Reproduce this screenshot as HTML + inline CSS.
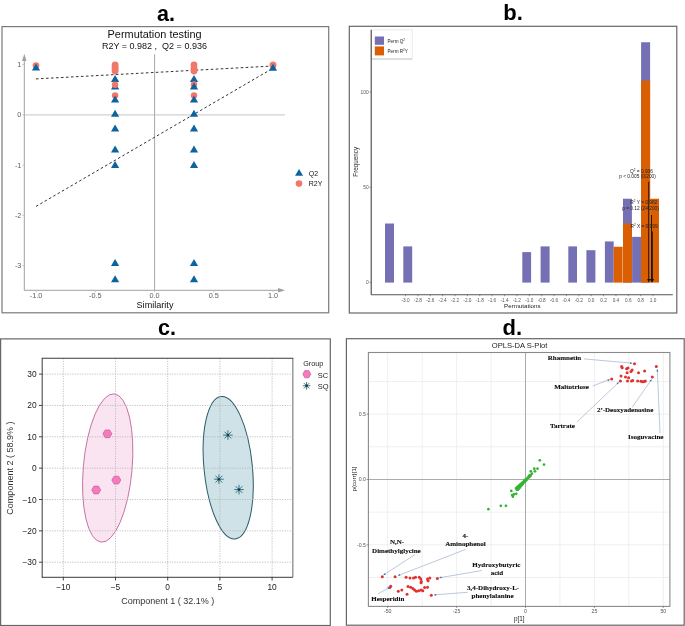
<!DOCTYPE html>
<html><head><meta charset="utf-8"><style>
html,body{margin:0;padding:0;background:#fff;}
svg{display:block;will-change:transform;filter:blur(0.35px);}
</style></head><body>
<svg width="685" height="626" viewBox="0 0 685 626">
<rect x="0" y="0" width="685" height="626" fill="#fff"/>
<text x="166.00" y="21.10" font-size="21.5" fill="#000" text-anchor="middle" font-weight="bold" font-family='"Liberation Sans", sans-serif' >a.</text>
<rect x="2.00" y="26.60" width="326.70" height="286.20" fill="none" stroke="#7a7a7a" stroke-width="1.2" />
<text x="154.60" y="37.60" font-size="10.2" fill="#111" text-anchor="middle" font-weight="normal" font-family='"Liberation Sans", sans-serif'  textLength="94" lengthAdjust="spacingAndGlyphs">Permutation testing</text>
<text x="154.45" y="48.90" font-size="8.2" fill="#111" text-anchor="middle" font-weight="normal" font-family='"Liberation Sans", sans-serif'  textLength="105" lengthAdjust="spacingAndGlyphs">R2Y = 0.982 ,&#160; Q2 = 0.936</text>
<line x1="24.30" y1="114.90" x2="285.00" y2="114.90" stroke="#d0d0d0" stroke-width="1.4" />
<line x1="154.60" y1="54.20" x2="154.60" y2="290.30" stroke="#a8a8a8" stroke-width="1" />
<line x1="24.30" y1="290.30" x2="24.30" y2="58.00" stroke="#a0a0a0" stroke-width="1" />
<line x1="24.30" y1="290.30" x2="280.00" y2="290.30" stroke="#a0a0a0" stroke-width="1" />
<path d="M24.3,53.8 L26.5,61 L22.1,61 Z" fill="#a0a0a0"/>
<path d="M285.2,290.3 L278,288.1 L278,292.5 Z" fill="#a0a0a0"/>
<text x="21.40" y="67.13" font-size="7.3" fill="#606060" text-anchor="end" font-weight="normal" font-family='"Liberation Sans", sans-serif' >1</text>
<line x1="22.30" y1="64.53" x2="24.30" y2="64.53" stroke="#bbb" stroke-width="0.8" />
<text x="21.40" y="117.40" font-size="7.3" fill="#606060" text-anchor="end" font-weight="normal" font-family='"Liberation Sans", sans-serif' >0</text>
<line x1="22.30" y1="114.80" x2="24.30" y2="114.80" stroke="#bbb" stroke-width="0.8" />
<text x="21.40" y="167.67" font-size="7.3" fill="#606060" text-anchor="end" font-weight="normal" font-family='"Liberation Sans", sans-serif' >-1</text>
<line x1="22.30" y1="165.07" x2="24.30" y2="165.07" stroke="#bbb" stroke-width="0.8" />
<text x="21.40" y="217.94" font-size="7.3" fill="#606060" text-anchor="end" font-weight="normal" font-family='"Liberation Sans", sans-serif' >-2</text>
<line x1="22.30" y1="215.34" x2="24.30" y2="215.34" stroke="#bbb" stroke-width="0.8" />
<text x="21.40" y="268.21" font-size="7.3" fill="#606060" text-anchor="end" font-weight="normal" font-family='"Liberation Sans", sans-serif' >-3</text>
<line x1="22.30" y1="265.61" x2="24.30" y2="265.61" stroke="#bbb" stroke-width="0.8" />
<text x="36.10" y="298.30" font-size="7.3" fill="#606060" text-anchor="middle" font-weight="normal" font-family='"Liberation Sans", sans-serif' >-1.0</text>
<line x1="36.10" y1="290.30" x2="36.10" y2="292.30" stroke="#bbb" stroke-width="0.8" />
<text x="95.35" y="298.30" font-size="7.3" fill="#606060" text-anchor="middle" font-weight="normal" font-family='"Liberation Sans", sans-serif' >-0.5</text>
<line x1="95.35" y1="290.30" x2="95.35" y2="292.30" stroke="#bbb" stroke-width="0.8" />
<text x="154.60" y="298.30" font-size="7.3" fill="#606060" text-anchor="middle" font-weight="normal" font-family='"Liberation Sans", sans-serif' >0.0</text>
<line x1="154.60" y1="290.30" x2="154.60" y2="292.30" stroke="#bbb" stroke-width="0.8" />
<text x="213.85" y="298.30" font-size="7.3" fill="#606060" text-anchor="middle" font-weight="normal" font-family='"Liberation Sans", sans-serif' >0.5</text>
<line x1="213.85" y1="290.30" x2="213.85" y2="292.30" stroke="#bbb" stroke-width="0.8" />
<text x="273.10" y="298.30" font-size="7.3" fill="#606060" text-anchor="middle" font-weight="normal" font-family='"Liberation Sans", sans-serif' >1.0</text>
<line x1="273.10" y1="290.30" x2="273.10" y2="292.30" stroke="#bbb" stroke-width="0.8" />
<text x="155.00" y="307.60" font-size="9.1" fill="#111" text-anchor="middle" font-weight="normal" font-family='"Liberation Sans", sans-serif' >Similarity</text>
<line x1="36.00" y1="78.90" x2="273.00" y2="66.00" stroke="#333" stroke-width="1" stroke-dasharray="2.6,2.4"/>
<line x1="36.00" y1="206.40" x2="273.00" y2="68.20" stroke="#333" stroke-width="1" stroke-dasharray="2.6,2.4"/>
<circle cx="36.00" cy="65.60" r="3.3" fill="#f0786a" stroke="none" stroke-width="0"/>
<path d="M36.00,63.60 L40.10,70.60 L31.90,70.60 Z" fill="#0d62a0"/>
<circle cx="273.00" cy="64.90" r="3.5" fill="#f0786a" stroke="none" stroke-width="0"/>
<path d="M273.00,63.80 L277.10,70.80 L268.90,70.80 Z" fill="#0d62a0"/>
<circle cx="115.10" cy="65.00" r="3.4" fill="#f0786a" stroke="none" stroke-width="0"/>
<circle cx="115.10" cy="67.20" r="3.4" fill="#f0786a" stroke="none" stroke-width="0"/>
<circle cx="115.10" cy="69.20" r="3.4" fill="#f0786a" stroke="none" stroke-width="0"/>
<circle cx="115.10" cy="71.00" r="3.4" fill="#f0786a" stroke="none" stroke-width="0"/>
<path d="M115.10,75.00 L119.20,82.00 L111.00,82.00 Z" fill="#0d62a0"/>
<path d="M115.10,82.60 L119.20,89.60 L111.00,89.60 Z" fill="#0d62a0"/>
<circle cx="115.10" cy="84.70" r="3.2" fill="#f0786a" stroke="none" stroke-width="0"/>
<circle cx="115.10" cy="95.50" r="3.2" fill="#f0786a" stroke="none" stroke-width="0"/>
<path d="M115.10,95.60 L119.20,102.60 L111.00,102.60 Z" fill="#0d62a0"/>
<path d="M115.10,109.80 L119.20,116.80 L111.00,116.80 Z" fill="#0d62a0"/>
<path d="M115.10,124.40 L119.20,131.40 L111.00,131.40 Z" fill="#0d62a0"/>
<path d="M115.10,145.60 L119.20,152.60 L111.00,152.60 Z" fill="#0d62a0"/>
<path d="M115.10,161.00 L119.20,168.00 L111.00,168.00 Z" fill="#0d62a0"/>
<path d="M115.10,258.90 L119.20,265.90 L111.00,265.90 Z" fill="#0d62a0"/>
<path d="M115.10,275.20 L119.20,282.20 L111.00,282.20 Z" fill="#0d62a0"/>
<circle cx="194.00" cy="65.00" r="3.4" fill="#f0786a" stroke="none" stroke-width="0"/>
<circle cx="194.00" cy="68.30" r="3.4" fill="#f0786a" stroke="none" stroke-width="0"/>
<circle cx="194.00" cy="71.00" r="3.4" fill="#f0786a" stroke="none" stroke-width="0"/>
<path d="M194.00,75.00 L198.10,82.00 L189.90,82.00 Z" fill="#0d62a0"/>
<circle cx="194.00" cy="84.50" r="3.2" fill="#f0786a" stroke="none" stroke-width="0"/>
<path d="M194.00,82.60 L198.10,89.60 L189.90,89.60 Z" fill="#0d62a0"/>
<circle cx="194.00" cy="95.50" r="3.2" fill="#f0786a" stroke="none" stroke-width="0"/>
<path d="M194.00,95.60 L198.10,102.60 L189.90,102.60 Z" fill="#0d62a0"/>
<path d="M194.00,109.80 L198.10,116.80 L189.90,116.80 Z" fill="#0d62a0"/>
<path d="M194.00,124.40 L198.10,131.40 L189.90,131.40 Z" fill="#0d62a0"/>
<path d="M194.00,145.60 L198.10,152.60 L189.90,152.60 Z" fill="#0d62a0"/>
<path d="M194.00,161.00 L198.10,168.00 L189.90,168.00 Z" fill="#0d62a0"/>
<path d="M194.00,258.90 L198.10,265.90 L189.90,265.90 Z" fill="#0d62a0"/>
<path d="M194.00,275.20 L198.10,282.20 L189.90,282.20 Z" fill="#0d62a0"/>
<path d="M299.05,169.10 L303.05,175.80 L295.05,175.80 Z" fill="#0d62a0"/>
<circle cx="299.00" cy="183.60" r="3.3" fill="#f0786a" stroke="none" stroke-width="0"/>
<text x="308.70" y="176.10" font-size="7" fill="#111" text-anchor="start" font-weight="normal" font-family='"Liberation Sans", sans-serif' >Q2</text>
<text x="308.70" y="185.80" font-size="7" fill="#111" text-anchor="start" font-weight="normal" font-family='"Liberation Sans", sans-serif' >R2Y</text>
<text x="513.00" y="19.70" font-size="22" fill="#000" text-anchor="middle" font-weight="bold" font-family='"Liberation Sans", sans-serif' >b.</text>
<rect x="349.30" y="26.30" width="327.50" height="286.70" fill="none" stroke="#666" stroke-width="1.2" />
<rect x="385.00" y="223.51" width="9.00" height="59.09" fill="#7570b3" stroke="none" stroke-width="1" />
<rect x="403.30" y="246.39" width="8.90" height="36.21" fill="#7570b3" stroke="none" stroke-width="1" />
<rect x="522.30" y="252.10" width="8.80" height="30.50" fill="#7570b3" stroke="none" stroke-width="1" />
<rect x="540.60" y="246.39" width="9.00" height="36.21" fill="#7570b3" stroke="none" stroke-width="1" />
<rect x="568.30" y="246.39" width="8.70" height="36.21" fill="#7570b3" stroke="none" stroke-width="1" />
<rect x="586.40" y="250.20" width="9.00" height="32.40" fill="#7570b3" stroke="none" stroke-width="1" />
<rect x="604.90" y="241.43" width="8.80" height="41.17" fill="#7570b3" stroke="none" stroke-width="1" />
<rect x="613.70" y="246.77" width="8.90" height="35.83" fill="#d95f02" stroke="none" stroke-width="1" />
<rect x="623.00" y="198.74" width="8.90" height="83.86" fill="#7570b3" stroke="none" stroke-width="1" />
<rect x="623.00" y="223.51" width="8.90" height="59.09" fill="#d95f02" stroke="none" stroke-width="1" />
<rect x="632.10" y="236.86" width="9.00" height="45.74" fill="#7570b3" stroke="none" stroke-width="1" />
<rect x="641.10" y="42.25" width="9.00" height="240.35" fill="#7570b3" stroke="none" stroke-width="1" />
<rect x="641.10" y="80.56" width="9.00" height="202.04" fill="#d95f02" stroke="none" stroke-width="1" />
<rect x="650.10" y="198.74" width="8.90" height="83.86" fill="#d95f02" stroke="none" stroke-width="1" />
<rect x="371.20" y="29.80" width="41.00" height="29.20" fill="#fff" stroke="#e6e6e6" stroke-width="0.8" />
<line x1="371.20" y1="59.00" x2="412.20" y2="59.00" stroke="#c8c8c8" stroke-width="1.2" />
<rect x="374.80" y="36.50" width="9.20" height="8.30" fill="#7570b3" stroke="none" stroke-width="1" />
<rect x="374.80" y="46.40" width="9.20" height="9.00" fill="#d95f02" stroke="none" stroke-width="1" />
<text x="387.50" y="42.60" font-size="4.6" fill="#222" text-anchor="start" font-weight="normal" font-family='"Liberation Sans", sans-serif' >Perm Q<tspan font-size="3" dy="-1.8">2</tspan></text>
<text x="387.50" y="52.80" font-size="4.6" fill="#222" text-anchor="start" font-weight="normal" font-family='"Liberation Sans", sans-serif' >Perm R<tspan font-size="3" dy="-1.8">2</tspan><tspan dy="1.8">Y</tspan></text>
<line x1="371.20" y1="29.80" x2="371.20" y2="294.70" stroke="#333" stroke-width="1" />
<line x1="371.20" y1="294.70" x2="672.80" y2="294.70" stroke="#555" stroke-width="1.1" />
<text x="368.60" y="284.30" font-size="4.8" fill="#555" text-anchor="end" font-weight="normal" font-family='"Liberation Sans", sans-serif' >0</text>
<line x1="369.60" y1="282.60" x2="371.20" y2="282.60" stroke="#555" stroke-width="0.6" />
<text x="368.60" y="189.00" font-size="4.8" fill="#555" text-anchor="end" font-weight="normal" font-family='"Liberation Sans", sans-serif' >50</text>
<line x1="369.60" y1="187.30" x2="371.20" y2="187.30" stroke="#555" stroke-width="0.6" />
<text x="368.60" y="93.70" font-size="4.8" fill="#555" text-anchor="end" font-weight="normal" font-family='"Liberation Sans", sans-serif' >100</text>
<line x1="369.60" y1="92.00" x2="371.20" y2="92.00" stroke="#555" stroke-width="0.6" />
<text x="405.50" y="301.80" font-size="4.7" fill="#555" text-anchor="middle" font-weight="normal" font-family='"Liberation Sans", sans-serif' >-3.0</text>
<line x1="405.50" y1="294.70" x2="405.50" y2="296.20" stroke="#555" stroke-width="0.6" />
<text x="417.88" y="301.80" font-size="4.7" fill="#555" text-anchor="middle" font-weight="normal" font-family='"Liberation Sans", sans-serif' >-2.8</text>
<line x1="417.88" y1="294.70" x2="417.88" y2="296.20" stroke="#555" stroke-width="0.6" />
<text x="430.26" y="301.80" font-size="4.7" fill="#555" text-anchor="middle" font-weight="normal" font-family='"Liberation Sans", sans-serif' >-2.6</text>
<line x1="430.26" y1="294.70" x2="430.26" y2="296.20" stroke="#555" stroke-width="0.6" />
<text x="442.64" y="301.80" font-size="4.7" fill="#555" text-anchor="middle" font-weight="normal" font-family='"Liberation Sans", sans-serif' >-2.4</text>
<line x1="442.64" y1="294.70" x2="442.64" y2="296.20" stroke="#555" stroke-width="0.6" />
<text x="455.02" y="301.80" font-size="4.7" fill="#555" text-anchor="middle" font-weight="normal" font-family='"Liberation Sans", sans-serif' >-2.2</text>
<line x1="455.02" y1="294.70" x2="455.02" y2="296.20" stroke="#555" stroke-width="0.6" />
<text x="467.40" y="301.80" font-size="4.7" fill="#555" text-anchor="middle" font-weight="normal" font-family='"Liberation Sans", sans-serif' >-2.0</text>
<line x1="467.40" y1="294.70" x2="467.40" y2="296.20" stroke="#555" stroke-width="0.6" />
<text x="479.78" y="301.80" font-size="4.7" fill="#555" text-anchor="middle" font-weight="normal" font-family='"Liberation Sans", sans-serif' >-1.8</text>
<line x1="479.78" y1="294.70" x2="479.78" y2="296.20" stroke="#555" stroke-width="0.6" />
<text x="492.16" y="301.80" font-size="4.7" fill="#555" text-anchor="middle" font-weight="normal" font-family='"Liberation Sans", sans-serif' >-1.6</text>
<line x1="492.16" y1="294.70" x2="492.16" y2="296.20" stroke="#555" stroke-width="0.6" />
<text x="504.54" y="301.80" font-size="4.7" fill="#555" text-anchor="middle" font-weight="normal" font-family='"Liberation Sans", sans-serif' >-1.4</text>
<line x1="504.54" y1="294.70" x2="504.54" y2="296.20" stroke="#555" stroke-width="0.6" />
<text x="516.92" y="301.80" font-size="4.7" fill="#555" text-anchor="middle" font-weight="normal" font-family='"Liberation Sans", sans-serif' >-1.2</text>
<line x1="516.92" y1="294.70" x2="516.92" y2="296.20" stroke="#555" stroke-width="0.6" />
<text x="529.30" y="301.80" font-size="4.7" fill="#555" text-anchor="middle" font-weight="normal" font-family='"Liberation Sans", sans-serif' >-1.0</text>
<line x1="529.30" y1="294.70" x2="529.30" y2="296.20" stroke="#555" stroke-width="0.6" />
<text x="541.68" y="301.80" font-size="4.7" fill="#555" text-anchor="middle" font-weight="normal" font-family='"Liberation Sans", sans-serif' >-0.8</text>
<line x1="541.68" y1="294.70" x2="541.68" y2="296.20" stroke="#555" stroke-width="0.6" />
<text x="554.06" y="301.80" font-size="4.7" fill="#555" text-anchor="middle" font-weight="normal" font-family='"Liberation Sans", sans-serif' >-0.6</text>
<line x1="554.06" y1="294.70" x2="554.06" y2="296.20" stroke="#555" stroke-width="0.6" />
<text x="566.44" y="301.80" font-size="4.7" fill="#555" text-anchor="middle" font-weight="normal" font-family='"Liberation Sans", sans-serif' >-0.4</text>
<line x1="566.44" y1="294.70" x2="566.44" y2="296.20" stroke="#555" stroke-width="0.6" />
<text x="578.82" y="301.80" font-size="4.7" fill="#555" text-anchor="middle" font-weight="normal" font-family='"Liberation Sans", sans-serif' >-0.2</text>
<line x1="578.82" y1="294.70" x2="578.82" y2="296.20" stroke="#555" stroke-width="0.6" />
<text x="591.20" y="301.80" font-size="4.7" fill="#555" text-anchor="middle" font-weight="normal" font-family='"Liberation Sans", sans-serif' >0.0</text>
<line x1="591.20" y1="294.70" x2="591.20" y2="296.20" stroke="#555" stroke-width="0.6" />
<text x="603.58" y="301.80" font-size="4.7" fill="#555" text-anchor="middle" font-weight="normal" font-family='"Liberation Sans", sans-serif' >0.2</text>
<line x1="603.58" y1="294.70" x2="603.58" y2="296.20" stroke="#555" stroke-width="0.6" />
<text x="615.96" y="301.80" font-size="4.7" fill="#555" text-anchor="middle" font-weight="normal" font-family='"Liberation Sans", sans-serif' >0.4</text>
<line x1="615.96" y1="294.70" x2="615.96" y2="296.20" stroke="#555" stroke-width="0.6" />
<text x="628.34" y="301.80" font-size="4.7" fill="#555" text-anchor="middle" font-weight="normal" font-family='"Liberation Sans", sans-serif' >0.6</text>
<line x1="628.34" y1="294.70" x2="628.34" y2="296.20" stroke="#555" stroke-width="0.6" />
<text x="640.72" y="301.80" font-size="4.7" fill="#555" text-anchor="middle" font-weight="normal" font-family='"Liberation Sans", sans-serif' >0.8</text>
<line x1="640.72" y1="294.70" x2="640.72" y2="296.20" stroke="#555" stroke-width="0.6" />
<text x="653.10" y="301.80" font-size="4.7" fill="#555" text-anchor="middle" font-weight="normal" font-family='"Liberation Sans", sans-serif' >1.0</text>
<line x1="653.10" y1="294.70" x2="653.10" y2="296.20" stroke="#555" stroke-width="0.6" />
<text x="522.30" y="307.80" font-size="6.2" fill="#222" text-anchor="middle" font-weight="normal" font-family='"Liberation Sans", sans-serif' >Permutations</text>
<text x="0.00" y="0.00" font-size="6.3" fill="#222" text-anchor="middle" font-weight="normal" font-family='"Liberation Sans", sans-serif' transform="translate(358.1,161.8) rotate(-90)">Frequency</text>
<line x1="648.70" y1="181.70" x2="648.70" y2="280.00" stroke="#111" stroke-width="0.9" />
<path d="M648.70,282.6 L650.30,279 L647.10,279 Z" fill="#111"/>
<line x1="651.50" y1="215.00" x2="651.50" y2="280.00" stroke="#111" stroke-width="0.9" />
<path d="M651.50,282.6 L653.10,279 L649.90,279 Z" fill="#111"/>
<line x1="652.40" y1="231.50" x2="652.40" y2="280.00" stroke="#111" stroke-width="0.9" />
<path d="M652.40,282.6 L654.00,279 L650.80,279 Z" fill="#111"/>
<text x="641.50" y="172.60" font-size="4.8" fill="#222" text-anchor="middle" font-weight="normal" font-family='"Liberation Sans", sans-serif' >Q<tspan font-size="3" dy="-1.6">2</tspan><tspan dy="1.6"> = 0.936</tspan></text>
<text x="637.50" y="178.00" font-size="4.8" fill="#222" text-anchor="middle" font-weight="normal" font-family='"Liberation Sans", sans-serif' >p &lt; 0.005 (0/200)</text>
<text x="643.80" y="203.60" font-size="4.8" fill="#222" text-anchor="middle" font-weight="normal" font-family='"Liberation Sans", sans-serif' >R<tspan font-size="3" dy="-1.6">2</tspan><tspan dy="1.6"> Y = 0.982</tspan></text>
<text x="640.50" y="210.00" font-size="4.8" fill="#222" text-anchor="middle" font-weight="normal" font-family='"Liberation Sans", sans-serif' >p = 0.12 (24/200)</text>
<text x="644.00" y="227.50" font-size="4.8" fill="#222" text-anchor="middle" font-weight="normal" font-family='"Liberation Sans", sans-serif' >R<tspan font-size="3" dy="-1.6">2</tspan><tspan dy="1.6"> X = 0.999</tspan></text>
<text x="167.00" y="334.60" font-size="21.5" fill="#000" text-anchor="middle" font-weight="bold" font-family='"Liberation Sans", sans-serif' >c.</text>
<rect x="0.60" y="338.90" width="329.70" height="286.60" fill="none" stroke="#666" stroke-width="1.2" />
<ellipse cx="107.7" cy="468" rx="24.4" ry="74.45" transform="rotate(5.0 107.7 468)" fill="#fbe4f1" stroke="#c06a9e" stroke-width="0.9"/>
<ellipse cx="228.2" cy="467.7" rx="24.2" ry="71.6" transform="rotate(-5.6 228.2 467.7)" fill="#cee2e7" stroke="#2c5a68" stroke-width="1"/>
<line x1="63.30" y1="358.30" x2="63.30" y2="577.30" stroke="#b0b0b0" stroke-width="0.85" stroke-dasharray="1.1,1.4"/>
<line x1="115.50" y1="358.30" x2="115.50" y2="577.30" stroke="#b0b0b0" stroke-width="0.85" stroke-dasharray="1.1,1.4"/>
<line x1="167.70" y1="358.30" x2="167.70" y2="577.30" stroke="#b0b0b0" stroke-width="0.85" stroke-dasharray="1.1,1.4"/>
<line x1="219.90" y1="358.30" x2="219.90" y2="577.30" stroke="#b0b0b0" stroke-width="0.85" stroke-dasharray="1.1,1.4"/>
<line x1="272.10" y1="358.30" x2="272.10" y2="577.30" stroke="#b0b0b0" stroke-width="0.85" stroke-dasharray="1.1,1.4"/>
<line x1="42.20" y1="374.10" x2="292.80" y2="374.10" stroke="#b0b0b0" stroke-width="0.85" stroke-dasharray="1.1,1.4"/>
<line x1="42.20" y1="405.45" x2="292.80" y2="405.45" stroke="#b0b0b0" stroke-width="0.85" stroke-dasharray="1.1,1.4"/>
<line x1="42.20" y1="436.80" x2="292.80" y2="436.80" stroke="#b0b0b0" stroke-width="0.85" stroke-dasharray="1.1,1.4"/>
<line x1="42.20" y1="468.15" x2="292.80" y2="468.15" stroke="#b0b0b0" stroke-width="0.85" stroke-dasharray="1.1,1.4"/>
<line x1="42.20" y1="499.50" x2="292.80" y2="499.50" stroke="#b0b0b0" stroke-width="0.85" stroke-dasharray="1.1,1.4"/>
<line x1="42.20" y1="530.85" x2="292.80" y2="530.85" stroke="#b0b0b0" stroke-width="0.85" stroke-dasharray="1.1,1.4"/>
<line x1="42.20" y1="562.20" x2="292.80" y2="562.20" stroke="#b0b0b0" stroke-width="0.85" stroke-dasharray="1.1,1.4"/>
<line x1="292.80" y1="358.30" x2="292.80" y2="577.30" stroke="#9a9a9a" stroke-width="1.5" />
<line x1="42.20" y1="358.30" x2="42.20" y2="577.30" stroke="#3a3a3a" stroke-width="1.0" />
<line x1="41.70" y1="358.30" x2="293.30" y2="358.30" stroke="#3a3a3a" stroke-width="1.1" />
<line x1="41.70" y1="577.30" x2="292.80" y2="577.30" stroke="#3a3a3a" stroke-width="1.0" />
<text x="36.60" y="377.10" font-size="8.4" fill="#222" text-anchor="end" font-weight="normal" font-family='"Liberation Sans", sans-serif' >30</text>
<line x1="39.00" y1="374.10" x2="42.20" y2="374.10" stroke="#333" stroke-width="0.9" />
<text x="36.60" y="408.45" font-size="8.4" fill="#222" text-anchor="end" font-weight="normal" font-family='"Liberation Sans", sans-serif' >20</text>
<line x1="39.00" y1="405.45" x2="42.20" y2="405.45" stroke="#333" stroke-width="0.9" />
<text x="36.60" y="439.80" font-size="8.4" fill="#222" text-anchor="end" font-weight="normal" font-family='"Liberation Sans", sans-serif' >10</text>
<line x1="39.00" y1="436.80" x2="42.20" y2="436.80" stroke="#333" stroke-width="0.9" />
<text x="36.60" y="471.15" font-size="8.4" fill="#222" text-anchor="end" font-weight="normal" font-family='"Liberation Sans", sans-serif' >0</text>
<line x1="39.00" y1="468.15" x2="42.20" y2="468.15" stroke="#333" stroke-width="0.9" />
<text x="36.60" y="502.50" font-size="8.4" fill="#222" text-anchor="end" font-weight="normal" font-family='"Liberation Sans", sans-serif' >&#8722;10</text>
<line x1="39.00" y1="499.50" x2="42.20" y2="499.50" stroke="#333" stroke-width="0.9" />
<text x="36.60" y="533.85" font-size="8.4" fill="#222" text-anchor="end" font-weight="normal" font-family='"Liberation Sans", sans-serif' >&#8722;20</text>
<line x1="39.00" y1="530.85" x2="42.20" y2="530.85" stroke="#333" stroke-width="0.9" />
<text x="36.60" y="565.20" font-size="8.4" fill="#222" text-anchor="end" font-weight="normal" font-family='"Liberation Sans", sans-serif' >&#8722;30</text>
<line x1="39.00" y1="562.20" x2="42.20" y2="562.20" stroke="#333" stroke-width="0.9" />
<text x="63.30" y="589.80" font-size="8.4" fill="#222" text-anchor="middle" font-weight="normal" font-family='"Liberation Sans", sans-serif' >&#8722;10</text>
<line x1="63.30" y1="577.30" x2="63.30" y2="580.50" stroke="#333" stroke-width="0.9" />
<text x="115.50" y="589.80" font-size="8.4" fill="#222" text-anchor="middle" font-weight="normal" font-family='"Liberation Sans", sans-serif' >&#8722;5</text>
<line x1="115.50" y1="577.30" x2="115.50" y2="580.50" stroke="#333" stroke-width="0.9" />
<text x="167.70" y="589.80" font-size="8.4" fill="#222" text-anchor="middle" font-weight="normal" font-family='"Liberation Sans", sans-serif' >0</text>
<line x1="167.70" y1="577.30" x2="167.70" y2="580.50" stroke="#333" stroke-width="0.9" />
<text x="219.90" y="589.80" font-size="8.4" fill="#222" text-anchor="middle" font-weight="normal" font-family='"Liberation Sans", sans-serif' >5</text>
<line x1="219.90" y1="577.30" x2="219.90" y2="580.50" stroke="#333" stroke-width="0.9" />
<text x="272.10" y="589.80" font-size="8.4" fill="#222" text-anchor="middle" font-weight="normal" font-family='"Liberation Sans", sans-serif' >10</text>
<line x1="272.10" y1="577.30" x2="272.10" y2="580.50" stroke="#333" stroke-width="0.9" />
<text x="167.75" y="604.20" font-size="9.0" fill="#333" text-anchor="middle" font-weight="normal" font-family='"Liberation Sans", sans-serif' >Component 1 ( 32.1% )</text>
<text x="0.00" y="0.00" font-size="9.0" fill="#333" text-anchor="middle" font-weight="normal" font-family='"Liberation Sans", sans-serif' transform="translate(13.4,468.1) rotate(-90)">Component 2 ( 58.9% )</text>
<path d="M102.90,433.80 L105.15,429.90 L109.65,429.90 L111.90,433.80 L109.65,437.70 L105.15,437.70 Z" fill="#f27dbb" stroke="#d2589c" stroke-width="0.7"/>
<path d="M111.80,480.10 L114.05,476.20 L118.55,476.20 L120.80,480.10 L118.55,484.00 L114.05,484.00 Z" fill="#f27dbb" stroke="#d2589c" stroke-width="0.7"/>
<path d="M91.70,490.00 L93.95,486.10 L98.45,486.10 L100.70,490.00 L98.45,493.90 L93.95,493.90 Z" fill="#f27dbb" stroke="#d2589c" stroke-width="0.7"/>
<line x1="223.10" y1="435.10" x2="232.70" y2="435.10" stroke="#2a6678" stroke-width="0.9" />
<line x1="224.51" y1="431.71" x2="231.29" y2="438.49" stroke="#2a6678" stroke-width="0.9" />
<line x1="227.90" y1="430.30" x2="227.90" y2="439.90" stroke="#2a6678" stroke-width="0.9" />
<line x1="231.29" y1="431.71" x2="224.51" y2="438.49" stroke="#2a6678" stroke-width="0.9" />
<circle cx="227.90" cy="435.10" r="1.3" fill="#0f3f50" stroke="none" stroke-width="0"/>
<line x1="214.10" y1="479.20" x2="223.70" y2="479.20" stroke="#2a6678" stroke-width="0.9" />
<line x1="215.51" y1="475.81" x2="222.29" y2="482.59" stroke="#2a6678" stroke-width="0.9" />
<line x1="218.90" y1="474.40" x2="218.90" y2="484.00" stroke="#2a6678" stroke-width="0.9" />
<line x1="222.29" y1="475.81" x2="215.51" y2="482.59" stroke="#2a6678" stroke-width="0.9" />
<circle cx="218.90" cy="479.20" r="1.3" fill="#0f3f50" stroke="none" stroke-width="0"/>
<line x1="234.20" y1="489.60" x2="243.80" y2="489.60" stroke="#2a6678" stroke-width="0.9" />
<line x1="235.61" y1="486.21" x2="242.39" y2="492.99" stroke="#2a6678" stroke-width="0.9" />
<line x1="239.00" y1="484.80" x2="239.00" y2="494.40" stroke="#2a6678" stroke-width="0.9" />
<line x1="242.39" y1="486.21" x2="235.61" y2="492.99" stroke="#2a6678" stroke-width="0.9" />
<circle cx="239.00" cy="489.60" r="1.3" fill="#0f3f50" stroke="none" stroke-width="0"/>
<text x="303.20" y="365.50" font-size="7.2" fill="#222" text-anchor="start" font-weight="normal" font-family='"Liberation Sans", sans-serif' >Group</text>
<path d="M302.80,374.20 L304.80,370.60 L308.80,370.60 L310.80,374.20 L308.80,377.80 L304.80,377.80 Z" fill="#f27dbb" stroke="#d2589c" stroke-width="0.7"/>
<text x="317.70" y="377.60" font-size="7.5" fill="#222" text-anchor="start" font-weight="normal" font-family='"Liberation Sans", sans-serif' >SC</text>
<line x1="302.80" y1="385.80" x2="310.40" y2="385.80" stroke="#2a6678" stroke-width="0.9" />
<line x1="303.91" y1="383.11" x2="309.29" y2="388.49" stroke="#2a6678" stroke-width="0.9" />
<line x1="306.60" y1="382.00" x2="306.60" y2="389.60" stroke="#2a6678" stroke-width="0.9" />
<line x1="309.29" y1="383.11" x2="303.91" y2="388.49" stroke="#2a6678" stroke-width="0.9" />
<circle cx="306.60" cy="385.80" r="1.3" fill="#0f3f50" stroke="none" stroke-width="0"/>
<text x="317.70" y="388.60" font-size="7.5" fill="#222" text-anchor="start" font-weight="normal" font-family='"Liberation Sans", sans-serif' >SQ</text>
<text x="512.30" y="335.10" font-size="22" fill="#000" text-anchor="middle" font-weight="bold" font-family='"Liberation Sans", sans-serif' >d.</text>
<rect x="346.40" y="338.70" width="337.80" height="286.50" fill="none" stroke="#666" stroke-width="1.2" />
<text x="519.60" y="347.70" font-size="7.6" fill="#222" text-anchor="middle" font-weight="normal" font-family='"Liberation Sans", sans-serif' >OPLS-DA S-Plot</text>
<line x1="387.70" y1="352.50" x2="387.70" y2="606.40" stroke="#ebebeb" stroke-width="0.8" />
<line x1="422.15" y1="352.50" x2="422.15" y2="606.40" stroke="#ebebeb" stroke-width="0.8" />
<line x1="456.60" y1="352.50" x2="456.60" y2="606.40" stroke="#ebebeb" stroke-width="0.8" />
<line x1="491.05" y1="352.50" x2="491.05" y2="606.40" stroke="#ebebeb" stroke-width="0.8" />
<line x1="525.50" y1="352.50" x2="525.50" y2="606.40" stroke="#ebebeb" stroke-width="0.8" />
<line x1="559.95" y1="352.50" x2="559.95" y2="606.40" stroke="#ebebeb" stroke-width="0.8" />
<line x1="594.40" y1="352.50" x2="594.40" y2="606.40" stroke="#ebebeb" stroke-width="0.8" />
<line x1="628.85" y1="352.50" x2="628.85" y2="606.40" stroke="#ebebeb" stroke-width="0.8" />
<line x1="663.30" y1="352.50" x2="663.30" y2="606.40" stroke="#ebebeb" stroke-width="0.8" />
<line x1="368.40" y1="577.45" x2="669.90" y2="577.45" stroke="#ebebeb" stroke-width="0.8" />
<line x1="368.40" y1="544.80" x2="669.90" y2="544.80" stroke="#ebebeb" stroke-width="0.8" />
<line x1="368.40" y1="512.15" x2="669.90" y2="512.15" stroke="#ebebeb" stroke-width="0.8" />
<line x1="368.40" y1="479.50" x2="669.90" y2="479.50" stroke="#ebebeb" stroke-width="0.8" />
<line x1="368.40" y1="446.85" x2="669.90" y2="446.85" stroke="#ebebeb" stroke-width="0.8" />
<line x1="368.40" y1="414.20" x2="669.90" y2="414.20" stroke="#ebebeb" stroke-width="0.8" />
<line x1="368.40" y1="381.55" x2="669.90" y2="381.55" stroke="#ebebeb" stroke-width="0.8" />
<line x1="525.50" y1="352.50" x2="525.50" y2="606.40" stroke="#ababab" stroke-width="1.0" />
<line x1="368.40" y1="479.50" x2="669.90" y2="479.50" stroke="#ababab" stroke-width="1.0" />
<rect x="368.40" y="352.50" width="301.50" height="253.90" fill="none" stroke="#8a8a8a" stroke-width="1.1" />
<text x="366.00" y="416.00" font-size="5.2" fill="#555" text-anchor="end" font-weight="normal" font-family='"Liberation Sans", sans-serif' >0.5</text>
<line x1="366.60" y1="414.20" x2="368.40" y2="414.20" stroke="#555" stroke-width="0.6" />
<text x="366.00" y="481.30" font-size="5.2" fill="#555" text-anchor="end" font-weight="normal" font-family='"Liberation Sans", sans-serif' >0.0</text>
<line x1="366.60" y1="479.50" x2="368.40" y2="479.50" stroke="#555" stroke-width="0.6" />
<text x="366.00" y="546.60" font-size="5.2" fill="#555" text-anchor="end" font-weight="normal" font-family='"Liberation Sans", sans-serif' >-0.5</text>
<line x1="366.60" y1="544.80" x2="368.40" y2="544.80" stroke="#555" stroke-width="0.6" />
<text x="387.70" y="613.20" font-size="5.2" fill="#555" text-anchor="middle" font-weight="normal" font-family='"Liberation Sans", sans-serif' >-50</text>
<line x1="387.70" y1="606.40" x2="387.70" y2="608.00" stroke="#555" stroke-width="0.6" />
<text x="456.60" y="613.20" font-size="5.2" fill="#555" text-anchor="middle" font-weight="normal" font-family='"Liberation Sans", sans-serif' >-25</text>
<line x1="456.60" y1="606.40" x2="456.60" y2="608.00" stroke="#555" stroke-width="0.6" />
<text x="525.50" y="613.20" font-size="5.2" fill="#555" text-anchor="middle" font-weight="normal" font-family='"Liberation Sans", sans-serif' >0</text>
<line x1="525.50" y1="606.40" x2="525.50" y2="608.00" stroke="#555" stroke-width="0.6" />
<text x="594.40" y="613.20" font-size="5.2" fill="#555" text-anchor="middle" font-weight="normal" font-family='"Liberation Sans", sans-serif' >25</text>
<line x1="594.40" y1="606.40" x2="594.40" y2="608.00" stroke="#555" stroke-width="0.6" />
<text x="663.30" y="613.20" font-size="5.2" fill="#555" text-anchor="middle" font-weight="normal" font-family='"Liberation Sans", sans-serif' >50</text>
<line x1="663.30" y1="606.40" x2="663.30" y2="608.00" stroke="#555" stroke-width="0.6" />
<text x="519.30" y="621.00" font-size="6.4" fill="#222" text-anchor="middle" font-weight="normal" font-family='"Liberation Sans", sans-serif' >p[1]</text>
<text x="0.00" y="0.00" font-size="6.2" fill="#222" text-anchor="middle" font-weight="normal" font-family='"Liberation Sans", sans-serif' transform="translate(355.7,479) rotate(-90)">p(corr)[1]</text>
<circle cx="488.40" cy="509.20" r="1.35" fill="#33b533" stroke="none" stroke-width="0"/>
<circle cx="500.80" cy="505.80" r="1.35" fill="#33b533" stroke="none" stroke-width="0"/>
<circle cx="505.90" cy="505.80" r="1.35" fill="#33b533" stroke="none" stroke-width="0"/>
<circle cx="511.30" cy="490.90" r="1.35" fill="#33b533" stroke="none" stroke-width="0"/>
<circle cx="512.10" cy="495.00" r="1.35" fill="#33b533" stroke="none" stroke-width="0"/>
<circle cx="512.90" cy="496.70" r="1.35" fill="#33b533" stroke="none" stroke-width="0"/>
<circle cx="513.90" cy="494.40" r="1.35" fill="#33b533" stroke="none" stroke-width="0"/>
<circle cx="516.20" cy="493.80" r="1.35" fill="#33b533" stroke="none" stroke-width="0"/>
<circle cx="516.80" cy="489.70" r="1.35" fill="#33b533" stroke="none" stroke-width="0"/>
<circle cx="530.80" cy="471.30" r="1.35" fill="#33b533" stroke="none" stroke-width="0"/>
<circle cx="534.30" cy="468.70" r="1.35" fill="#33b533" stroke="none" stroke-width="0"/>
<circle cx="534.90" cy="471.30" r="1.35" fill="#33b533" stroke="none" stroke-width="0"/>
<circle cx="537.50" cy="468.70" r="1.35" fill="#33b533" stroke="none" stroke-width="0"/>
<circle cx="539.80" cy="460.30" r="1.35" fill="#33b533" stroke="none" stroke-width="0"/>
<circle cx="544.00" cy="464.60" r="1.35" fill="#33b533" stroke="none" stroke-width="0"/>
<circle cx="516.90" cy="488.20" r="1.35" fill="#33b533" stroke="none" stroke-width="0"/>
<circle cx="516.10" cy="488.24" r="1.35" fill="#33b533" stroke="none" stroke-width="0"/>
<circle cx="517.79" cy="489.80" r="1.35" fill="#33b533" stroke="none" stroke-width="0"/>
<circle cx="518.57" cy="488.21" r="1.35" fill="#33b533" stroke="none" stroke-width="0"/>
<circle cx="516.88" cy="487.57" r="1.35" fill="#33b533" stroke="none" stroke-width="0"/>
<circle cx="518.42" cy="489.00" r="1.35" fill="#33b533" stroke="none" stroke-width="0"/>
<circle cx="518.23" cy="487.52" r="1.35" fill="#33b533" stroke="none" stroke-width="0"/>
<circle cx="517.66" cy="486.90" r="1.35" fill="#33b533" stroke="none" stroke-width="0"/>
<circle cx="519.06" cy="488.19" r="1.35" fill="#33b533" stroke="none" stroke-width="0"/>
<circle cx="519.90" cy="486.13" r="1.35" fill="#33b533" stroke="none" stroke-width="0"/>
<circle cx="518.44" cy="486.24" r="1.35" fill="#33b533" stroke="none" stroke-width="0"/>
<circle cx="519.69" cy="487.39" r="1.35" fill="#33b533" stroke="none" stroke-width="0"/>
<circle cx="519.57" cy="486.14" r="1.35" fill="#33b533" stroke="none" stroke-width="0"/>
<circle cx="519.22" cy="485.57" r="1.35" fill="#33b533" stroke="none" stroke-width="0"/>
<circle cx="520.32" cy="486.59" r="1.35" fill="#33b533" stroke="none" stroke-width="0"/>
<circle cx="521.23" cy="485.45" r="1.35" fill="#33b533" stroke="none" stroke-width="0"/>
<circle cx="520.00" cy="484.90" r="1.35" fill="#33b533" stroke="none" stroke-width="0"/>
<circle cx="520.95" cy="485.78" r="1.35" fill="#33b533" stroke="none" stroke-width="0"/>
<circle cx="520.90" cy="484.06" r="1.35" fill="#33b533" stroke="none" stroke-width="0"/>
<circle cx="520.78" cy="484.23" r="1.35" fill="#33b533" stroke="none" stroke-width="0"/>
<circle cx="521.59" cy="484.98" r="1.35" fill="#33b533" stroke="none" stroke-width="0"/>
<circle cx="522.57" cy="484.07" r="1.35" fill="#33b533" stroke="none" stroke-width="0"/>
<circle cx="521.55" cy="483.56" r="1.35" fill="#33b533" stroke="none" stroke-width="0"/>
<circle cx="522.22" cy="484.18" r="1.35" fill="#33b533" stroke="none" stroke-width="0"/>
<circle cx="522.23" cy="483.38" r="1.35" fill="#33b533" stroke="none" stroke-width="0"/>
<circle cx="522.33" cy="482.90" r="1.35" fill="#33b533" stroke="none" stroke-width="0"/>
<circle cx="522.85" cy="483.38" r="1.35" fill="#33b533" stroke="none" stroke-width="0"/>
<circle cx="523.90" cy="481.99" r="1.35" fill="#33b533" stroke="none" stroke-width="0"/>
<circle cx="523.11" cy="482.23" r="1.35" fill="#33b533" stroke="none" stroke-width="0"/>
<circle cx="523.49" cy="482.57" r="1.35" fill="#33b533" stroke="none" stroke-width="0"/>
<circle cx="523.57" cy="482.00" r="1.35" fill="#33b533" stroke="none" stroke-width="0"/>
<circle cx="523.89" cy="481.56" r="1.35" fill="#33b533" stroke="none" stroke-width="0"/>
<circle cx="524.12" cy="481.77" r="1.35" fill="#33b533" stroke="none" stroke-width="0"/>
<circle cx="525.23" cy="481.30" r="1.35" fill="#33b533" stroke="none" stroke-width="0"/>
<circle cx="524.67" cy="480.89" r="1.35" fill="#33b533" stroke="none" stroke-width="0"/>
<circle cx="524.75" cy="480.97" r="1.35" fill="#33b533" stroke="none" stroke-width="0"/>
<circle cx="524.90" cy="479.91" r="1.35" fill="#33b533" stroke="none" stroke-width="0"/>
<circle cx="526.57" cy="479.92" r="1.35" fill="#33b533" stroke="none" stroke-width="0"/>
<circle cx="526.23" cy="479.23" r="1.35" fill="#33b533" stroke="none" stroke-width="0"/>
<circle cx="527.90" cy="477.84" r="1.35" fill="#33b533" stroke="none" stroke-width="0"/>
<circle cx="527.57" cy="477.85" r="1.35" fill="#33b533" stroke="none" stroke-width="0"/>
<circle cx="529.23" cy="477.16" r="1.35" fill="#33b533" stroke="none" stroke-width="0"/>
<circle cx="528.90" cy="475.77" r="1.35" fill="#33b533" stroke="none" stroke-width="0"/>
<circle cx="530.57" cy="475.78" r="1.35" fill="#33b533" stroke="none" stroke-width="0"/>
<circle cx="530.23" cy="475.09" r="1.35" fill="#33b533" stroke="none" stroke-width="0"/>
<circle cx="531.90" cy="473.70" r="1.35" fill="#33b533" stroke="none" stroke-width="0"/>
<circle cx="634.50" cy="363.80" r="1.5" fill="#e03030" stroke="none" stroke-width="0"/>
<circle cx="621.60" cy="366.40" r="1.5" fill="#e03030" stroke="none" stroke-width="0"/>
<circle cx="622.20" cy="367.80" r="1.5" fill="#e03030" stroke="none" stroke-width="0"/>
<circle cx="626.60" cy="368.70" r="1.5" fill="#e03030" stroke="none" stroke-width="0"/>
<circle cx="628.00" cy="368.10" r="1.5" fill="#e03030" stroke="none" stroke-width="0"/>
<circle cx="632.10" cy="370.10" r="1.5" fill="#e03030" stroke="none" stroke-width="0"/>
<circle cx="631.00" cy="371.60" r="1.5" fill="#e03030" stroke="none" stroke-width="0"/>
<circle cx="627.10" cy="372.80" r="1.5" fill="#e03030" stroke="none" stroke-width="0"/>
<circle cx="638.50" cy="372.80" r="1.5" fill="#e03030" stroke="none" stroke-width="0"/>
<circle cx="644.60" cy="371.00" r="1.5" fill="#e03030" stroke="none" stroke-width="0"/>
<circle cx="656.30" cy="366.60" r="1.5" fill="#e03030" stroke="none" stroke-width="0"/>
<circle cx="621.00" cy="375.90" r="1.5" fill="#e03030" stroke="none" stroke-width="0"/>
<circle cx="625.50" cy="376.90" r="1.5" fill="#e03030" stroke="none" stroke-width="0"/>
<circle cx="628.60" cy="377.70" r="1.5" fill="#e03030" stroke="none" stroke-width="0"/>
<circle cx="652.30" cy="376.90" r="1.5" fill="#e03030" stroke="none" stroke-width="0"/>
<circle cx="611.70" cy="379.00" r="1.5" fill="#e03030" stroke="none" stroke-width="0"/>
<circle cx="620.40" cy="381.00" r="1.5" fill="#e03030" stroke="none" stroke-width="0"/>
<circle cx="627.50" cy="381.00" r="1.5" fill="#e03030" stroke="none" stroke-width="0"/>
<circle cx="631.50" cy="381.00" r="1.5" fill="#e03030" stroke="none" stroke-width="0"/>
<circle cx="632.70" cy="380.60" r="1.5" fill="#e03030" stroke="none" stroke-width="0"/>
<circle cx="637.60" cy="381.00" r="1.5" fill="#e03030" stroke="none" stroke-width="0"/>
<circle cx="640.90" cy="381.30" r="1.5" fill="#e03030" stroke="none" stroke-width="0"/>
<circle cx="642.60" cy="381.80" r="1.5" fill="#e03030" stroke="none" stroke-width="0"/>
<circle cx="644.20" cy="381.50" r="1.5" fill="#e03030" stroke="none" stroke-width="0"/>
<circle cx="645.30" cy="381.00" r="1.5" fill="#e03030" stroke="none" stroke-width="0"/>
<circle cx="382.30" cy="576.70" r="1.5" fill="#e03030" stroke="none" stroke-width="0"/>
<circle cx="395.10" cy="576.70" r="1.5" fill="#e03030" stroke="none" stroke-width="0"/>
<circle cx="406.10" cy="577.30" r="1.5" fill="#e03030" stroke="none" stroke-width="0"/>
<circle cx="410.00" cy="577.90" r="1.5" fill="#e03030" stroke="none" stroke-width="0"/>
<circle cx="413.50" cy="577.90" r="1.5" fill="#e03030" stroke="none" stroke-width="0"/>
<circle cx="415.50" cy="577.30" r="1.5" fill="#e03030" stroke="none" stroke-width="0"/>
<circle cx="419.30" cy="577.30" r="1.5" fill="#e03030" stroke="none" stroke-width="0"/>
<circle cx="420.80" cy="579.00" r="1.5" fill="#e03030" stroke="none" stroke-width="0"/>
<circle cx="421.30" cy="581.40" r="1.5" fill="#e03030" stroke="none" stroke-width="0"/>
<circle cx="421.00" cy="582.80" r="1.5" fill="#e03030" stroke="none" stroke-width="0"/>
<circle cx="427.50" cy="579.00" r="1.5" fill="#e03030" stroke="none" stroke-width="0"/>
<circle cx="428.10" cy="580.80" r="1.5" fill="#e03030" stroke="none" stroke-width="0"/>
<circle cx="429.80" cy="577.90" r="1.5" fill="#e03030" stroke="none" stroke-width="0"/>
<circle cx="437.40" cy="578.50" r="1.5" fill="#e03030" stroke="none" stroke-width="0"/>
<circle cx="390.70" cy="586.30" r="1.5" fill="#e03030" stroke="none" stroke-width="0"/>
<circle cx="389.80" cy="587.50" r="1.5" fill="#e03030" stroke="none" stroke-width="0"/>
<circle cx="398.30" cy="591.30" r="1.5" fill="#e03030" stroke="none" stroke-width="0"/>
<circle cx="401.80" cy="590.10" r="1.5" fill="#e03030" stroke="none" stroke-width="0"/>
<circle cx="408.00" cy="586.60" r="1.5" fill="#e03030" stroke="none" stroke-width="0"/>
<circle cx="410.60" cy="587.20" r="1.5" fill="#e03030" stroke="none" stroke-width="0"/>
<circle cx="412.90" cy="588.40" r="1.5" fill="#e03030" stroke="none" stroke-width="0"/>
<circle cx="414.60" cy="590.10" r="1.5" fill="#e03030" stroke="none" stroke-width="0"/>
<circle cx="416.40" cy="591.30" r="1.5" fill="#e03030" stroke="none" stroke-width="0"/>
<circle cx="418.70" cy="590.70" r="1.5" fill="#e03030" stroke="none" stroke-width="0"/>
<circle cx="421.00" cy="590.10" r="1.5" fill="#e03030" stroke="none" stroke-width="0"/>
<circle cx="422.80" cy="590.70" r="1.5" fill="#e03030" stroke="none" stroke-width="0"/>
<circle cx="424.60" cy="587.50" r="1.5" fill="#e03030" stroke="none" stroke-width="0"/>
<circle cx="427.50" cy="587.20" r="1.5" fill="#e03030" stroke="none" stroke-width="0"/>
<circle cx="407.00" cy="594.20" r="1.5" fill="#e03030" stroke="none" stroke-width="0"/>
<circle cx="431.30" cy="595.20" r="1.5" fill="#e03030" stroke="none" stroke-width="0"/>
<line x1="584.00" y1="358.90" x2="632.30" y2="363.20" stroke="#7890b8" stroke-width="0.5" />
<path d="M632.30,363.20 L630.01,364.10 L630.21,361.91 Z" fill="#3b6cc0"/>
<line x1="592.60" y1="386.00" x2="609.80" y2="379.40" stroke="#7890b8" stroke-width="0.5" />
<path d="M609.80,379.40 L608.14,381.22 L607.35,379.16 Z" fill="#3b6cc0"/>
<line x1="577.00" y1="422.00" x2="618.80" y2="382.20" stroke="#7890b8" stroke-width="0.5" />
<path d="M618.80,382.20 L617.97,384.51 L616.45,382.92 Z" fill="#3b6cc0"/>
<line x1="632.10" y1="407.40" x2="651.60" y2="379.40" stroke="#7890b8" stroke-width="0.5" />
<path d="M651.60,379.40 L651.25,381.83 L649.44,380.58 Z" fill="#3b6cc0"/>
<line x1="660.00" y1="433.20" x2="657.30" y2="369.20" stroke="#7890b8" stroke-width="0.5" />
<path d="M657.30,369.20 L658.49,371.35 L656.29,371.44 Z" fill="#3b6cc0"/>
<line x1="415.00" y1="554.50" x2="383.50" y2="575.10" stroke="#7890b8" stroke-width="0.5" />
<path d="M383.50,575.10 L384.74,572.98 L385.94,574.82 Z" fill="#3b6cc0"/>
<line x1="465.40" y1="549.50" x2="398.00" y2="575.60" stroke="#7890b8" stroke-width="0.5" />
<path d="M398.00,575.60 L399.65,573.78 L400.45,575.83 Z" fill="#3b6cc0"/>
<line x1="481.80" y1="570.50" x2="439.30" y2="577.80" stroke="#7890b8" stroke-width="0.5" />
<path d="M439.30,577.80 L441.28,576.34 L441.65,578.51 Z" fill="#3b6cc0"/>
<line x1="467.80" y1="592.30" x2="433.90" y2="594.90" stroke="#7890b8" stroke-width="0.5" />
<path d="M433.90,594.90 L436.01,593.63 L436.18,595.83 Z" fill="#3b6cc0"/>
<line x1="377.80" y1="593.90" x2="389.80" y2="587.20" stroke="#7890b8" stroke-width="0.5" />
<path d="M389.80,587.20 L388.42,589.23 L387.34,587.31 Z" fill="#3b6cc0"/>
<text x="564.50" y="360.20" font-size="7.0" fill="#111" text-anchor="middle" font-weight="bold" font-family='"Liberation Serif", serif' stroke="#111" stroke-width="0.12">Rhamnetin</text>
<text x="571.50" y="388.80" font-size="7.0" fill="#111" text-anchor="middle" font-weight="bold" font-family='"Liberation Serif", serif' stroke="#111" stroke-width="0.12">Maltotriose</text>
<text x="562.40" y="428.00" font-size="7.0" fill="#111" text-anchor="middle" font-weight="bold" font-family='"Liberation Serif", serif' stroke="#111" stroke-width="0.12">Tartrate</text>
<text x="625.10" y="412.30" font-size="7.0" fill="#111" text-anchor="middle" font-weight="bold" font-family='"Liberation Serif", serif' stroke="#111" stroke-width="0.12">2&#8217;-Deoxyadenosine</text>
<text x="645.70" y="438.90" font-size="7.0" fill="#111" text-anchor="middle" font-weight="bold" font-family='"Liberation Serif", serif' stroke="#111" stroke-width="0.12">Isoguvacine</text>
<text x="465.40" y="537.50" font-size="7.0" fill="#111" text-anchor="middle" font-weight="bold" font-family='"Liberation Serif", serif' stroke="#111" stroke-width="0.12">4-</text>
<text x="465.40" y="546.20" font-size="7.0" fill="#111" text-anchor="middle" font-weight="bold" font-family='"Liberation Serif", serif' stroke="#111" stroke-width="0.12">Aminophenol</text>
<text x="397.00" y="544.00" font-size="7.0" fill="#111" text-anchor="middle" font-weight="bold" font-family='"Liberation Serif", serif' stroke="#111" stroke-width="0.12">N,N-</text>
<text x="396.40" y="552.70" font-size="7.0" fill="#111" text-anchor="middle" font-weight="bold" font-family='"Liberation Serif", serif' stroke="#111" stroke-width="0.12">Dimethylglycine</text>
<text x="496.40" y="566.70" font-size="7.0" fill="#111" text-anchor="middle" font-weight="bold" font-family='"Liberation Serif", serif' stroke="#111" stroke-width="0.12">Hydroxybutyric</text>
<text x="497.00" y="574.90" font-size="7.0" fill="#111" text-anchor="middle" font-weight="bold" font-family='"Liberation Serif", serif' stroke="#111" stroke-width="0.12">acid</text>
<text x="493.10" y="589.60" font-size="7.0" fill="#111" text-anchor="middle" font-weight="bold" font-family='"Liberation Serif", serif' stroke="#111" stroke-width="0.12">3,4-Dihydroxy-L-</text>
<text x="492.60" y="597.80" font-size="7.0" fill="#111" text-anchor="middle" font-weight="bold" font-family='"Liberation Serif", serif' stroke="#111" stroke-width="0.12">phenylalanine</text>
<text x="387.80" y="600.60" font-size="7.0" fill="#111" text-anchor="middle" font-weight="bold" font-family='"Liberation Serif", serif' stroke="#111" stroke-width="0.12">Hesperidin</text>
</svg>
</body></html>
